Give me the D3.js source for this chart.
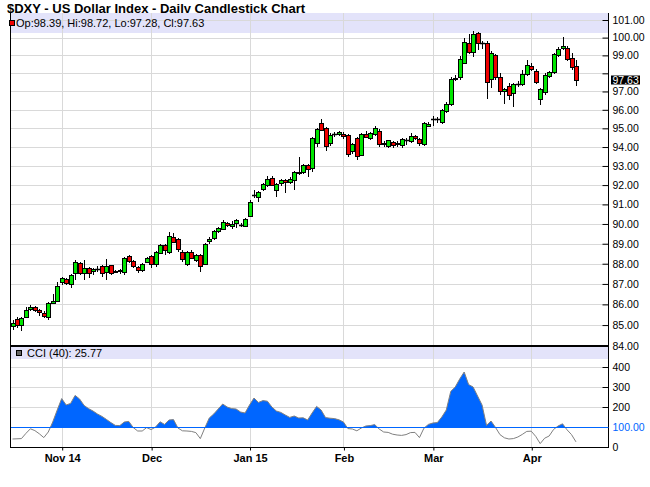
<!DOCTYPE html>
<html><head><meta charset="utf-8">
<script src="https://cdn.jsdelivr.net/npm/d3@7"></script>
<style>body{margin:0;background:#fff}svg{display:block;font-family:"Liberation Sans",Arial,sans-serif}</style>
</head><body><svg id="c" width="650" height="487"></svg>
<script>
// ---------- data ----------
const opens=[84.97,85.28,85.02,85.39,85.78,85.85,85.72,85.60,85.40,86.07,86.18,87.10,87.25,87.00,87.53,88.05,87.55,87.80,87.63,87.76,
87.87,87.60,87.92,87.66,87.68,87.58,88.38,88.13,87.83,87.67,88.10,88.38,88.00,88.55,88.92,88.60,89.35,89.22,88.60,88.00,
88.60,88.20,88.45,88.00,89.12,89.27,89.62,89.76,90.05,89.90,90.03,89.97,89.92,90.43,91.48,91.39,91.80,92.02,92.35,91.75,
92.09,92.25,92.16,92.25,92.68,92.70,93.05,92.91,94.21,95.29,95.00,94.20,94.67,94.68,94.70,94.63,93.77,94.47,93.58,94.70,
94.47,94.70,94.88,94.16,94.05,94.26,94.18,94.10,94.36,94.32,94.58,94.42,94.18,95.15,95.50,95.49,95.33,95.95,96.32,97.66,
97.79,98.58,99.72,99.21,100.28,99.68,99.68,97.70,99.02,97.79,97.05,97.30,96.89,97.42,97.40,97.96,98.42,98.15,96.60,96.98,
97.87,98.08,99.02,99.40,99.43,98.83,98.39];
const highs=[85.25,85.40,85.40,85.87,85.95,85.90,85.78,85.70,86.12,86.50,87.10,87.35,87.30,87.50,88.20,88.10,88.20,87.85,87.80,87.90,
87.95,88.25,87.95,87.70,87.75,88.35,88.42,88.20,87.90,88.05,88.35,88.42,88.65,88.98,88.98,89.58,89.55,89.30,88.70,88.65,
88.68,88.50,88.50,89.05,89.35,89.70,89.85,90.20,90.10,90.15,90.25,90.05,90.30,91.25,91.75,91.70,92.10,92.45,92.45,92.10,
92.30,92.30,92.40,92.75,93.45,93.10,93.10,94.55,95.00,95.50,95.05,94.75,94.80,94.85,94.80,94.70,94.20,94.55,94.75,94.85,
94.82,95.10,94.95,94.30,94.40,94.32,94.30,94.50,94.50,94.75,94.65,94.50,95.35,95.35,95.68,95.62,96.05,96.45,97.80,97.90,
98.96,99.96,100.19,100.40,100.34,99.82,99.81,99.25,99.10,98.00,97.20,97.45,97.45,97.55,98.20,98.72,98.60,98.25,97.20,98.00,
98.15,99.15,99.45,100.04,99.55,99.15,98.72];
const lows=[84.76,84.85,84.70,85.34,85.68,85.65,85.42,85.35,85.22,86.00,86.10,86.95,86.95,86.80,87.17,87.45,87.20,87.30,87.45,87.60,
87.35,87.20,87.45,87.55,87.50,87.45,88.05,87.80,87.55,87.60,88.05,87.80,87.85,88.50,88.45,88.50,89.05,88.60,88.10,87.90,
88.25,88.10,87.60,87.95,89.00,89.20,89.55,89.70,89.85,89.75,89.80,89.85,89.85,90.35,91.35,91.10,91.70,91.90,91.95,91.40,
91.95,91.60,92.05,91.75,92.55,92.60,92.40,92.70,94.00,94.85,93.77,94.05,94.55,94.60,94.45,93.45,93.65,93.30,93.50,94.50,
94.40,94.60,94.00,94.00,93.95,93.95,94.00,93.95,94.10,94.20,94.40,94.05,94.05,95.05,95.10,95.30,95.25,95.85,96.23,97.55,
97.64,98.53,99.10,98.90,99.28,99.35,96.60,97.17,97.64,96.80,96.32,96.51,96.13,97.25,97.30,97.85,98.15,97.40,96.26,96.80,
97.75,97.95,98.90,99.30,98.70,98.20,97.28];
const closes=[85.10,85.02,85.34,85.74,85.86,85.72,85.62,85.45,86.06,86.16,86.92,87.30,87.03,87.42,88.10,87.55,87.80,87.55,87.75,87.78,
87.55,87.90,87.55,87.62,87.62,88.30,88.13,87.90,87.67,87.97,88.30,87.97,88.58,88.95,88.66,89.40,89.10,88.73,88.24,88.60,
88.30,88.45,87.88,89.00,89.25,89.65,89.80,90.12,89.95,90.00,90.20,89.95,90.27,91.12,91.47,91.64,92.04,92.33,91.98,92.05,
92.26,92.16,92.33,92.70,92.61,93.05,92.86,94.49,94.95,94.91,94.03,94.65,94.66,94.79,94.60,93.63,94.16,93.54,94.69,94.56,
94.77,95.00,94.16,94.24,94.35,94.12,94.22,94.42,94.34,94.58,94.48,94.19,95.27,95.25,95.48,95.47,95.97,96.33,97.68,97.74,
98.77,99.77,99.21,100.23,99.72,99.66,97.51,99.15,97.79,97.02,97.11,96.83,97.40,97.43,97.96,98.49,98.26,97.51,97.11,97.92,
98.08,99.06,99.38,99.53,98.77,98.34,97.63];
const cci=[40,41,42,68,91,82,66,47,75,125,185,242,210,218,258,240,208,192,180,165,
153,138,122,108,107,125,128,97,80,80,97,87,100,126,113,135,137,95,81,80,
78,72,42,95,145,165,190,215,200,192,190,175,170,210,245,223,232,229,200,180,
173,160,148,155,145,146,135,170,203,185,147,144,142,136,125,92,90,81,95,105,
107,112,90,75,73,64,60,58,62,72,73,47,94,113,120,122,150,185,278,300,
340,375,312,300,255,210,108,130,98,62,46,40,42,50,63,78,79,53,17,44,
55,88,105,116,86,62,25.77];
const priceTicks=[84,85,86,87,88,89,90,91,92,93,94,95,96,97,98,99,100,101];
const cciTicks=[0,100,200,300,400];
const monthLabels=["Nov 14","Dec","Jan 15","Feb","Mar","Apr"];
const monthIndex=[11,31,53,74,94,116];
const title="$DXY - US Dollar Index - Daily Candlestick Chart";
const legendPrice="Op:98.39, Hi:98.72, Lo:97.28, Cl:97.63";
const legendCCI="CCI (40): 25.77";
const lastClose=97.63;

// ---------- layout ----------
const L=10,R=608,mainTop=13,mainBot=346,cciBot=447;
const n=closes.length;
const x=d3.scaleLinear().domain([0,126]).range([12.5,12.5+126*4.472]);
const y=d3.scaleLog().domain([84,101]).range([346,20]);
const yc=d3.scaleLinear().domain([0,400]).range([447,367]);
const GREEN="#00e600",RED="#ee0000",GRID="#d9d9d9",BAND="#e3e3fa",BLUE="#0066ff";

const svg=d3.select("#c");
svg.append("text").attr("x",7).attr("y",13).attr("font-size",13).attr("font-weight","bold").text(title);

// panel legend bands
svg.append("rect").attr("x",L).attr("y",mainTop).attr("width",R-L).attr("height",20).attr("fill",BAND);
svg.append("rect").attr("x",L).attr("y",mainBot+1).attr("width",R-L).attr("height",12).attr("fill",BAND);

// grid
const g=svg.append("g").attr("stroke",GRID).attr("stroke-width",1);
priceTicks.filter(v=>v>84).forEach(v=>{const yy=Math.round(y(v))+0.5;g.append("line").attr("x1",L).attr("x2",R).attr("y1",yy).attr("y2",yy);});
[200,300,400].forEach(v=>{const yy=Math.round(yc(v))+0.5;g.append("line").attr("x1",L).attr("x2",R).attr("y1",yy).attr("y2",yy);});
monthIndex.forEach(i=>{const xx=Math.round(x(i))+0.5;
  g.append("line").attr("x1",xx).attr("x2",xx).attr("y1",mainTop).attr("y2",mainBot);
  g.append("line").attr("x1",xx).attr("x2",xx).attr("y1",mainBot).attr("y2",cciBot);});

// candles
const cg=svg.append("g");
d3.range(n).forEach(i=>{
  const r=Math.round(x(i)),o=opens[i],c=closes[i],h=highs[i],l=lows[i];
  cg.append("line").attr("x1",r+0.5).attr("x2",r+0.5).attr("y1",Math.round(y(h))).attr("y2",Math.round(y(l))).attr("stroke","#000");
  if(Math.abs(c-o)<0.03){
    const yy=Math.round(y(o))+0.5;
    cg.append("line").attr("x1",r-2).attr("x2",r+3).attr("y1",yy).attr("y2",yy).attr("stroke","#000").attr("stroke-width",1.5);
  } else {
    const t=Math.round(y(Math.max(o,c))),b=Math.round(y(Math.min(o,c)));
    cg.append("rect").attr("x",r-1.5).attr("y",t+0.5).attr("width",4).attr("height",Math.max(b-t,1))
      .attr("fill",c>o?GREEN:RED).attr("stroke","#000").attr("stroke-width",1);
  }
});

// CCI area + line
const clipId="cciclip";
svg.append("clipPath").attr("id",clipId).append("rect").attr("x",L).attr("y",mainBot).attr("width",R-L).attr("height",yc(100)-mainBot);
const area=d3.area().x((d,i)=>x(i)).y0(yc(100)).y1(d=>yc(d));
svg.append("path").datum(cci).attr("d",area).attr("fill",BLUE).attr("clip-path",`url(#${clipId})`);
svg.append("path").datum(cci).attr("d",d3.line().x((d,i)=>x(i)).y(d=>yc(d))).attr("fill","none").attr("stroke","#808080").attr("stroke-width",1);
svg.append("line").attr("x1",L).attr("x2",R).attr("y1",Math.round(yc(100))+0.5).attr("y2",Math.round(yc(100))+0.5).attr("stroke",BLUE);

// frame
const fr=svg.append("g").attr("stroke","#000");
fr.append("line").attr("x1",L+0.5).attr("x2",L+0.5).attr("y1",mainTop).attr("y2",cciBot+1);
fr.append("line").attr("x1",R+0.5).attr("x2",R+0.5).attr("y1",mainTop).attr("y2",cciBot+1);
fr.append("line").attr("x1",L).attr("x2",R+1).attr("y1",mainBot).attr("y2",mainBot).attr("stroke-width",2);
fr.append("line").attr("x1",L).attr("x2",R+1).attr("y1",cciBot+0.5).attr("y2",cciBot+0.5);

// price axis
const ay=svg.append("g").attr("transform",`translate(${R+0.5},0)`)
  .call(d3.axisRight(y).tickValues(priceTicks).tickSizeInner(-6).tickSizeOuter(0).tickPadding(4).tickFormat(d3.format(".2f")));
ay.select(".domain").remove();
ay.selectAll("text").attr("font-size",10.5).attr("font-family","Liberation Sans, Arial, sans-serif").attr("fill","#000")
  .attr("display",d=>Math.abs(y(d)-y(lastClose))<9?"none":null);
ay.selectAll(".tick line").attr("stroke","#000");
const yl=Math.round(y(lastClose));
svg.append("rect").attr("x",R+3).attr("y",yl-4.5).attr("width",29).attr("height",9).attr("fill","#000");
svg.append("text").attr("x",R+4.5).attr("y",yl).attr("dy","0.35em").attr("font-size",10.5).attr("fill","#fff").text(lastClose.toFixed(2));

// CCI axis
const ac=svg.append("g").attr("transform",`translate(${R+0.5},0)`)
  .call(d3.axisRight(yc).tickValues(cciTicks).tickSizeInner(-6).tickSizeOuter(0).tickPadding(4).tickFormat(d=>d===100?"100.00":String(d)));
ac.select(".domain").remove();
ac.selectAll("text").attr("font-size",10.5).attr("font-family","Liberation Sans, Arial, sans-serif").attr("fill",d=>d===100?BLUE:"#000");
ac.selectAll(".tick line").attr("stroke",d=>d===100?BLUE:"#000");

// x axis
const ax=svg.append("g").attr("transform",`translate(0.5,${cciBot+0.5})`)
  .call(d3.axisBottom(x).tickValues(monthIndex).tickSizeInner(3).tickSizeOuter(0).tickPadding(4).tickFormat((d,i)=>monthLabels[i]));
ax.select(".domain").remove();
ax.selectAll("text").attr("font-size",11).attr("font-weight","bold").attr("font-family","Liberation Sans, Arial, sans-serif").attr("fill","#000");
ax.selectAll(".tick line").attr("stroke","#000");

// legends
svg.append("rect").attr("x",9.5).attr("y",20.5).attr("width",5).attr("height",5).attr("fill",RED).attr("stroke","#000");
svg.append("text").attr("x",16).attr("y",27).attr("font-size",11).text(legendPrice);
svg.append("rect").attr("x",16.5).attr("y",350.5).attr("width",5).attr("height",5).attr("fill","#666").attr("stroke","#000");
svg.append("text").attr("x",27).attr("y",357).attr("font-size",11).text(legendCCI);
</script></body></html>
